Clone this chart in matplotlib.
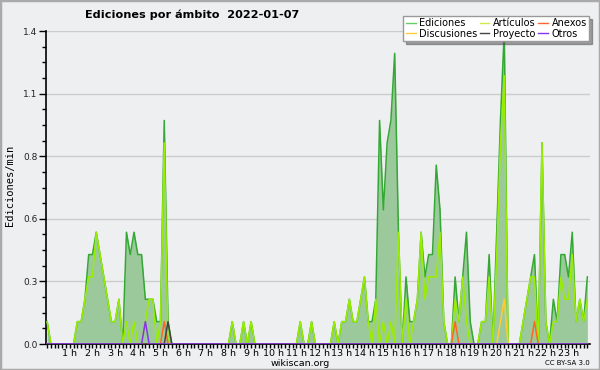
import numpy as np
import matplotlib.pyplot as plt
from matplotlib.lines import Line2D
from matplotlib.patches import Rectangle

# Edits per minute, one value per 10-minute bin (144 bins)
ediciones = [
    0.1, 0, 0, 0, 0, 0, 0, 0, 0.1, 0.1, 0.2, 0.4, 0.4, 0.5, 0.4, 0.3, 0.2, 0.1, 0.1, 0.2,
    0, 0.5, 0.4, 0.5, 0.4, 0.4, 0.2, 0.2, 0.2, 0.1, 0.1, 1.0, 0.1, 0, 0, 0, 0, 0, 0, 0,
    0, 0, 0, 0, 0, 0, 0, 0, 0, 0.1, 0, 0, 0.1, 0, 0.1, 0, 0, 0, 0, 0,
    0, 0, 0, 0, 0, 0, 0, 0.1, 0, 0, 0.1, 0, 0, 0, 0, 0, 0.1, 0, 0.1, 0.1,
    0.2, 0.1, 0.1, 0.2, 0.3, 0.1, 0.1, 0.2, 1.0, 0.6, 0.9, 1.0, 1.3, 0.5, 0, 0.3, 0.1, 0.1, 0.2, 0.5,
    0.3, 0.4, 0.4, 0.8, 0.6, 0.1, 0, 0, 0.3, 0.1, 0.3, 0.5, 0.1, 0, 0, 0.1, 0.1, 0.4, 0, 0.5,
    1.0, 1.4, 0, 0, 0, 0, 0.1, 0.2, 0.3, 0.4, 0, 0.9, 0.1, 0, 0.2, 0.1, 0.4, 0.4, 0.3, 0.5,
    0.1, 0.2, 0.1, 0.3,
]
articulos = [
    0.1, 0, 0, 0, 0, 0, 0, 0, 0.1, 0.1, 0.2, 0.3, 0.3, 0.5, 0.4, 0.3, 0.2, 0.1, 0.1, 0.2,
    0, 0.1, 0, 0.1, 0, 0, 0.1, 0.2, 0.2, 0, 0.1, 0.9, 0, 0, 0, 0, 0, 0, 0, 0,
    0, 0, 0, 0, 0, 0, 0, 0, 0, 0.1, 0, 0, 0.1, 0, 0.1, 0, 0, 0, 0, 0,
    0, 0, 0, 0, 0, 0, 0, 0.1, 0, 0, 0.1, 0, 0, 0, 0, 0, 0.1, 0, 0.1, 0.1,
    0.2, 0.1, 0.1, 0.2, 0.3, 0.1, 0, 0.2, 0, 0.1, 0, 0.1, 0, 0.5, 0, 0.2, 0, 0.1, 0.2, 0.5,
    0.2, 0.3, 0.3, 0.3, 0.5, 0.1, 0, 0, 0.2, 0.1, 0.3, 0.1, 0, 0, 0, 0.1, 0.1, 0.3, 0, 0.4,
    0.9, 1.2, 0, 0, 0, 0, 0.1, 0.2, 0.3, 0.3, 0, 0.9, 0.1, 0, 0.1, 0.1, 0.3, 0.2, 0.2, 0.4,
    0.1, 0.2, 0.1, 0.2,
]
anexos = [0.0] * 144
anexos[31] = 0.1
anexos[108] = 0.1
anexos[129] = 0.1
discusiones = [0.0] * 144
discusiones[120] = 0.1
discusiones[121] = 0.2
proyecto = [0.0] * 144
proyecto[32] = 0.1
otros = [0.0] * 144
otros[26] = 0.1

hours = list(range(1, 24))
hour_labels = [f"{h} h" for h in hours]
ytick_vals = [0, 0.28, 0.56, 0.84, 1.12, 1.4]
ytick_labels = ["0.0", "0.3", "0.6", "0.8", "1.1", "1.4"]

bg = "#eeeff1"
fig = plt.figure(figsize=(6, 3.7), dpi=100, facecolor=bg)
ax = fig.add_axes([46 / 600, 26 / 370, 544 / 600, 313 / 370], facecolor=bg)

x = np.arange(len(ediciones))
ax.fill_between(x, ediciones, color="#9cc99c", lw=0, zorder=2)
ax.plot(x, ediciones, color="#33a833", lw=1.1, zorder=3)
ax.plot(x, articulos, color="#99ee00", lw=1.1, zorder=4)
ax.plot(x, discusiones, color="#ffcc33", lw=1.1, zorder=5)
ax.plot(x, anexos, color="#ff6622", lw=1.1, zorder=5)
ax.plot(x, proyecto, color="#444444", lw=1.1, zorder=5)
ax.plot(x, otros, color="#8833ee", lw=1.1, zorder=5)

ax.set_xlim(-0.3, 143.7)
ax.set_ylim(0, 1.4)
ax.set_yticks(ytick_vals)
ax.set_yticklabels(ytick_labels, fontsize=6.5, color="#222222")
ax.set_yticks(np.arange(0, 1.41, 0.07), minor=True)
ax.set_xticks([h * 6 for h in hours])
ax.set_xticklabels(hour_labels, fontsize=6.8)
ax.set_xticks(x, minor=True)
ax.tick_params(axis="x", which="both", length=3, width=1, pad=0.5)
ax.tick_params(axis="y", which="major", length=5, width=1, pad=1)
ax.tick_params(axis="y", which="minor", length=3, width=1)
ax.grid(axis="y", color="#cccccc", lw=1, zorder=1)
for s in ["top", "right"]:
    ax.spines[s].set_visible(False)
ax.spines["left"].set_linewidth(1.2)
ax.spines["bottom"].set_linewidth(1.2)

fig.text(85 / 600, 1 - 15 / 370, "Ediciones por ámbito  2022-01-07",
         fontsize=8.1, fontweight="bold", va="center", ha="left")
fig.text(10 / 600, 1 - 185 / 370, "Ediciones/min", rotation=90,
         fontsize=7.5, family="DejaVu Sans Mono", va="center", ha="center")
fig.text(300 / 600, 1 - 363 / 370, "wikiscan.org", fontsize=6.8, ha="center", va="center")
fig.text(590 / 600, 1 - 363 / 370, "CC BY-SA 3.0", fontsize=5, ha="right", va="center")

handles = [
    Line2D([], [], color="#66cc66", lw=1),
    Line2D([], [], color="#ffcc33", lw=1),
    Line2D([], [], color="#ccee44", lw=1),
    Line2D([], [], color="#444444", lw=1),
    Line2D([], [], color="#ff6633", lw=1),
    Line2D([], [], color="#8833ee", lw=1),
]
labels = ["Ediciones", "Discusiones", "Artículos", "Proyecto", "Anexos", "Otros"]
leg = fig.legend(handles, labels, ncol=3, loc="upper right",
                 bbox_to_anchor=(594 / 600, 1 - 11 / 370), fontsize=7,
                 handlelength=1.0, handletextpad=0.4, columnspacing=0.2,
                 labelspacing=0.05, borderpad=0.25, fancybox=False, shadow=True,
                 framealpha=1, edgecolor="#999999")
leg.get_frame().set_linewidth(1)

fig.patches.append(Rectangle((0, 0), 1, 1, transform=fig.transFigure, fill=False,
                             edgecolor="#aaaaaa", lw=2.5))

fig.savefig("out.png", dpi=100, facecolor=bg)
